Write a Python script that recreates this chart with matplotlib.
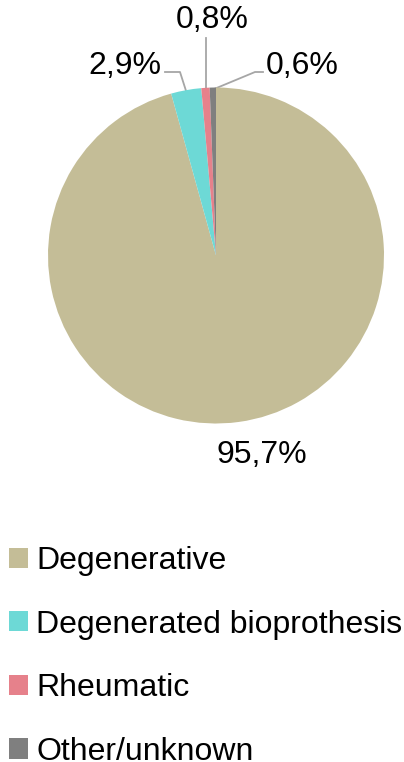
import numpy as np
import matplotlib
matplotlib.use("Agg")
import matplotlib.pyplot as plt

plt.rcParams['font.family'] = ['Liberation Sans', 'DejaVu Sans']

# data
categories = ["Degenerative", "Degenerated bioprothesis", "Rheumatic", "Other/unknown"]
values = [95.7, 2.9, 0.8, 0.6]
pct_labels = ["95,7%", "2,9%", "0,8%", "0,6%"]
colors = ["#C4BD97", "#6DD9D6", "#E6818B", "#7F7F7F"]

W, H = 404, 762
fig = plt.figure(figsize=(W / 100, H / 100), dpi=100)
ax = fig.add_axes([0, 0, 1, 1])

cx, cy, r = 216, H - 255.5, 168
wedges, _ = ax.pie(values, colors=colors, startangle=90, counterclock=False,
                   center=(cx, cy), radius=r, frame=True,
                   wedgeprops=dict(linewidth=0))
ax.set_xlim(0, W)
ax.set_ylim(0, H)
ax.set_aspect('equal')
ax.axis('off')

line_col = "#A6A6A6"
fs = 23
# big slice label, below the pie
ax.text(262, H - 455, pct_labels[0], fontsize=fs, ha='center', va='center')

# small slices: label position, elbow points (pixel coords, y down)
label_pos = {1: (125, 66), 2: (212, 20), 3: (302, 66)}
elbows = {1: [(165, 72), (180, 72)], 2: [], 3: [(263, 72), (255, 72)]}
for i in (1, 2, 3):
    w = wedges[i]
    mid = np.deg2rad((w.theta1 + w.theta2) / 2)
    px = cx + (r - 2) * np.cos(mid)
    py = cy + (r - 2) * np.sin(mid)
    if i == 2:
        pts = [(px, H - 38), (px, py)]
    else:
        pts = [(x, H - y) for x, y in elbows[i]] + [(px, py)]
    xs, ys = zip(*pts)
    ax.plot(xs, ys, color=line_col, lw=1.3, zorder=0)
    lx, ly = label_pos[i]
    ax.text(lx, H - ly, pct_labels[i], fontsize=fs, ha='center', va='center')

fig.legend(wedges, categories, loc='upper left', bbox_to_anchor=(9 / W, 1 - 546 / H),
           frameon=False, fontsize=fs, handlelength=0.6, handleheight=0.6,
           handletextpad=0.25, labelspacing=1.05, borderaxespad=0, borderpad=0)

fig.savefig("out.png", dpi=100)
